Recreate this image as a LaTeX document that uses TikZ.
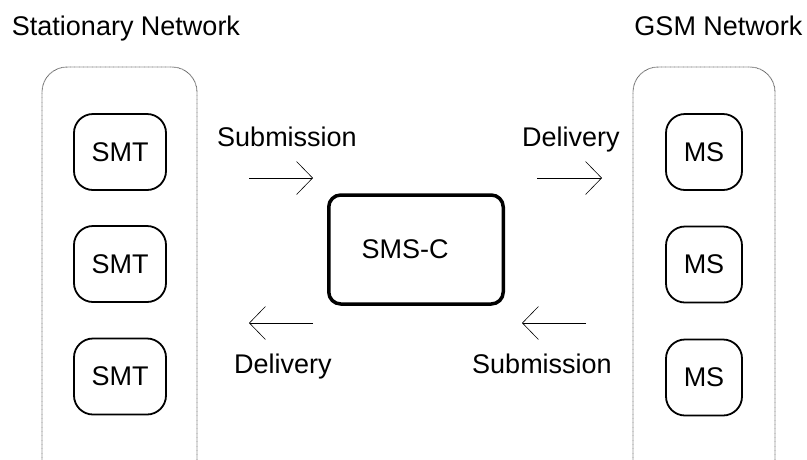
\documentclass[tikz,border=0pt]{standalone}
\usepackage{fontspec}
\setmainfont{Liberation Sans}
\usetikzlibrary{arrows.meta}
\begin{document}
\begin{tikzpicture}[x=1pt,y=-1pt,
  every node/.style={font=\fontsize{27}{32}\selectfont},
  netbox/.style={draw=black!60, line width=0.9pt, dash pattern=on 0.8pt off 0.5pt, rounded corners=25pt},
  termbox/.style={draw, line width=1.8pt, rounded corners=19pt, minimum height=76pt, inner sep=0pt},
  centerbox/.style={draw, line width=3.5pt, rounded corners=12pt, minimum width=174.5pt, minimum height=109pt, inner sep=0pt},
  flow/.style={line width=0.6pt, -{Straight Barb[length=16pt,width=33pt,line width=0.6pt]}},
  lbl/.style={anchor=base, inner sep=0pt}
]
\useasboundingbox (0,0) rectangle (807,459);
% containers
\draw[netbox] (42,480) -- (42,67) -- (197,67) -- (197,480);
\draw[netbox] (633,480) -- (633,67) -- (775,67) -- (775,480);
% titles
\node[lbl] (t1) at (126,35) {Stationary Network};
\node[lbl] (t2) at (718.5,35) {GSM Network};
% terminals
\node[termbox, minimum width=92pt] (smt1) at (120,152) {SMT};
\node[termbox, minimum width=92pt] (smt2) at (120,264) {SMT};
\node[termbox, minimum width=92pt] (smt3) at (120,376.5) {SMT};
\node[termbox, minimum width=76pt] (ms1) at (704,152) {MS};
\node[termbox, minimum width=76pt] (ms2) at (704,264.5) {MS};
\node[termbox, minimum width=76pt] (ms3) at (704,377.5) {MS};
% centre
\node[centerbox] (smsc) at (416,249.5) {SMS-C\hspace*{22pt}};
% arrows
\coordinate (a1s) at (249,178); \coordinate (a1e) at (313,178);
\coordinate (a2s) at (537,178); \coordinate (a2e) at (602,178);
\coordinate (a3s) at (313,323); \coordinate (a3e) at (249,323);
\coordinate (a4s) at (586,323); \coordinate (a4e) at (522,323);
\draw[flow] (a1s) -- (a1e);
\draw[flow] (a2s) -- (a2e);
\draw[flow] (a3s) -- (a3e);
\draw[flow] (a4s) -- (a4e);
% labels
\node[lbl] (l1) at (287,146) {Submission};
\node[lbl] (l2) at (571,146) {Delivery};
\node[lbl] (l3) at (283,373) {Delivery};
\node[lbl] (l4) at (542,373) {Submission};
\end{tikzpicture}
\end{document}
